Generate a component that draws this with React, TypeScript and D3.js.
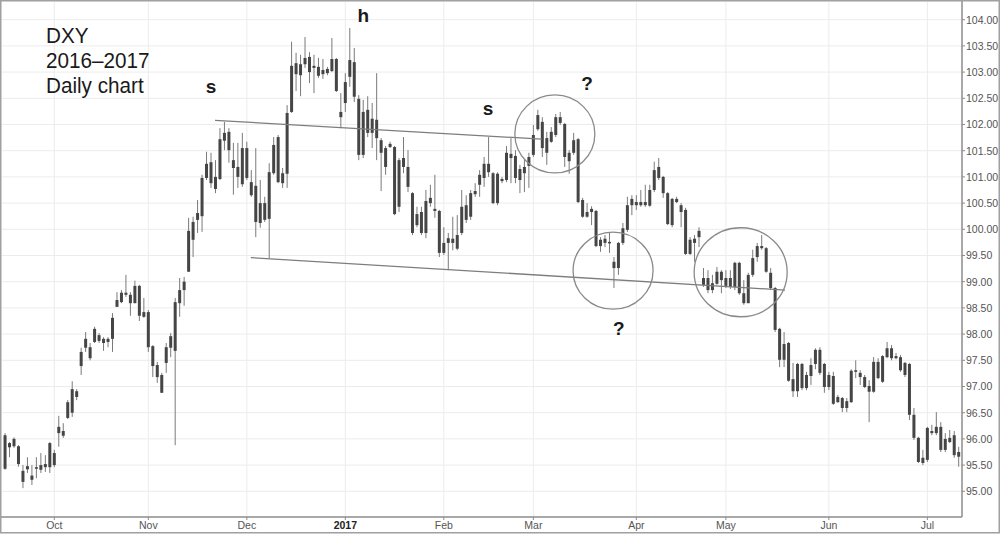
import React from 'react';
import * as d3 from 'd3';

// DXY daily OHLC, 2016-09-16 .. 2017-07-12 (trading weekdays)
const openP = [
  96.07, 95.84, 95.86, 95.86, 95.39, 95.42, 95.30, 95.43, 95.41, 95.46,
  95.46, 95.73, 96.11, 96.15, 96.40, 96.50, 96.80, 97.39, 97.74, 97.75,
  97.85, 97.98, 97.91, 97.85, 97.91, 98.52, 98.61, 98.75, 98.75, 98.59,
  98.92, 98.42, 98.42, 97.77, 97.41, 97.22, 97.45, 97.74, 97.68, 98.59,
  98.84, 99.19, 99.80, 100.18, 100.25, 100.98, 101.28, 101.00, 100.96, 101.69,
  101.86, 101.32, 101.19, 100.86, 100.98, 100.90, 100.83, 100.50, 100.18, 100.20,
  101.07, 101.76, 101.07, 101.06, 102.24, 102.96, 103.15, 103.15, 103.29, 103.12,
  103.10, 103.04, 102.98, 103.02, 103.25, 102.24, 102.41, 102.91, 103.19, 102.49,
  102.24, 101.84, 102.11, 102.09, 101.70, 101.55, 101.57, 101.57, 101.32, 101.19,
  101.19, 100.69, 100.08, 100.33, 99.93, 100.50, 100.39, 100.35, 99.74, 99.74,
  99.82, 99.89, 99.93, 100.46, 100.24, 100.67, 100.85, 100.98, 101.09, 101.07,
  101.06, 100.92, 100.94, 101.36, 101.40, 101.15, 101.07, 101.21, 101.42, 101.91,
  102.05, 101.74, 101.67, 101.80, 102.03, 102.01, 101.46, 101.46, 101.72, 100.56,
  100.33, 100.33, 100.35, 99.80, 99.74, 99.76, 99.38, 99.26, 99.74, 99.99,
  100.46, 100.52, 100.46, 100.52, 100.45, 100.75, 100.98, 101.00, 100.69, 100.58,
  100.52, 100.46, 100.37, 99.80, 99.74, 99.85, 99.07, 99.07, 98.97, 98.96,
  99.03, 99.07, 99.07, 98.90, 99.36, 98.78, 98.59, 99.13, 99.47, 99.64,
  99.64, 99.17, 98.88, 98.10, 97.51, 97.83, 97.14, 96.91, 97.43, 97.22,
  97.20, 97.43, 97.70, 97.43, 96.99, 97.20, 96.70, 96.78, 96.59, 96.70,
  97.28, 97.26, 97.18, 97.01, 96.90, 97.47, 97.09, 97.56, 97.73, 97.58,
  97.56, 97.45, 97.43, 96.46, 96.02, 95.64, 95.60, 96.15, 96.11, 96.23,
  96.00, 95.94, 96.07, 95.75,
];
const closeP = [
  95.43, 95.92, 96.00, 95.52, 95.18, 95.48, 95.22, 95.46, 95.50, 95.52,
  95.92, 95.50, 96.23, 96.06, 96.70, 96.95, 96.91, 97.66, 97.91, 97.54,
  98.10, 97.87, 97.83, 97.91, 98.31, 98.65, 98.79, 98.79, 98.59, 98.92,
  98.35, 98.33, 97.75, 97.39, 97.18, 96.88, 97.75, 97.96, 98.61, 98.84,
  99.00, 99.97, 100.14, 100.31, 100.98, 101.25, 100.88, 100.77, 101.72, 101.84,
  101.51, 101.17, 101.00, 101.55, 101.55, 100.65, 100.14, 100.12, 100.50, 101.09,
  101.61, 100.90, 100.88, 102.22, 103.12, 103.17, 102.94, 103.27, 103.00, 103.08,
  102.93, 102.96, 103.06, 103.25, 102.64, 102.14, 102.81, 103.23, 102.53, 101.42,
  101.42, 102.28, 101.84, 101.74, 101.46, 101.19, 101.63, 100.29, 100.43, 101.36,
  100.81, 99.93, 100.29, 99.93, 100.54, 100.60, 100.35, 99.55, 99.55, 99.83,
  99.74, 99.63, 100.43, 100.18, 100.69, 100.73, 101.04, 101.25, 101.25, 100.50,
  100.50, 100.96, 101.46, 101.44, 100.98, 100.94, 101.19, 101.38, 101.80, 102.18,
  101.55, 101.46, 101.86, 102.14, 102.14, 101.38, 101.30, 101.70, 100.52, 100.24,
  100.24, 100.39, 99.68, 99.68, 99.82, 99.74, 99.26, 99.74, 100.02, 100.46,
  100.58, 100.46, 100.52, 100.46, 100.75, 101.13, 101.19, 100.69, 100.10, 100.08,
  100.58, 100.33, 99.53, 99.53, 99.82, 99.97, 98.94, 98.84, 98.84, 99.19,
  99.19, 98.92, 98.90, 99.36, 98.78, 98.59, 99.13, 99.45, 99.68, 99.68,
  99.19, 98.88, 98.08, 97.51, 97.81, 97.11, 96.91, 97.43, 96.97, 96.97,
  97.41, 97.70, 97.26, 96.99, 97.22, 96.67, 96.80, 96.59, 96.72, 97.30,
  97.31, 97.18, 96.99, 96.90, 97.47, 97.16, 97.58, 97.73, 97.54, 97.54,
  97.31, 97.22, 96.46, 96.02, 95.56, 95.54, 96.21, 96.11, 96.23, 95.79,
  95.79, 96.02, 95.69, 95.66,
];
const highP = [
  96.11, 95.94, 96.03, 95.88, 95.50, 95.65, 95.50, 95.65, 95.73, 95.69,
  95.94, 95.79, 96.44, 96.30, 96.74, 97.10, 96.95, 97.74, 98.04, 97.83,
  98.14, 98.02, 97.94, 97.94, 98.40, 98.80, 98.84, 99.13, 98.80, 99.02,
  98.94, 98.69, 98.46, 97.79, 97.47, 97.26, 97.83, 98.02, 98.69, 99.07,
  99.09, 100.22, 100.24, 100.56, 101.04, 101.48, 101.46, 101.32, 101.93, 102.05,
  101.93, 101.65, 101.65, 101.84, 101.67, 101.13, 101.55, 100.94, 100.62, 101.26,
  101.76, 101.80, 101.17, 102.37, 103.58, 103.37, 103.33, 103.67, 103.38, 103.33,
  103.27, 103.25, 103.10, 103.65, 103.27, 102.60, 102.98, 103.84, 103.46, 102.56,
  102.47, 102.54, 102.41, 102.98, 101.74, 101.59, 101.67, 101.59, 101.36, 101.76,
  101.51, 100.71, 100.43, 100.43, 100.75, 100.85, 101.04, 100.37, 100.04, 99.93,
  100.24, 100.27, 100.75, 100.65, 100.75, 100.88, 101.13, 101.38, 101.76, 101.09,
  101.09, 101.00, 101.59, 101.74, 101.51, 101.23, 101.34, 101.46, 101.99, 102.28,
  102.14, 101.86, 101.95, 102.20, 102.24, 102.03, 101.51, 101.84, 101.74, 100.60,
  100.50, 100.44, 100.37, 99.85, 99.89, 99.95, 99.47, 99.76, 100.12, 100.62,
  100.65, 100.65, 100.75, 100.85, 100.85, 101.29, 101.36, 101.02, 100.71, 100.60,
  100.62, 100.50, 100.41, 99.85, 99.89, 100.04, 99.26, 99.22, 99.13, 99.28,
  99.22, 99.22, 99.22, 99.38, 99.38, 99.03, 99.17, 99.61, 99.74, 99.89,
  99.66, 99.26, 98.90, 98.12, 98.04, 97.85, 97.45, 97.45, 97.45, 97.28,
  97.54, 97.73, 97.75, 97.45, 97.28, 97.28, 96.84, 96.80, 96.78, 97.33,
  97.50, 97.31, 97.22, 97.12, 97.56, 97.54, 97.60, 97.85, 97.79, 97.64,
  97.60, 97.47, 97.45, 96.59, 96.04, 95.79, 96.23, 96.27, 96.51, 96.32,
  96.11, 96.17, 96.15, 95.85,
];
const lowP = [
  95.41, 95.65, 95.83, 95.47, 95.06, 95.35, 95.12, 95.25, 95.35, 95.37,
  95.35, 95.46, 95.85, 96.02, 96.38, 96.42, 96.74, 97.22, 97.66, 97.50,
  97.83, 97.83, 97.68, 97.75, 97.66, 98.52, 98.59, 98.71, 98.35, 98.59,
  98.25, 98.31, 97.66, 97.18, 97.07, 96.88, 97.26, 97.56, 95.88, 98.33,
  98.54, 99.19, 99.47, 99.93, 99.95, 100.94, 100.79, 100.69, 100.94, 101.51,
  101.27, 100.66, 100.79, 100.81, 100.94, 100.62, 99.85, 100.03, 100.14, 99.45,
  101.04, 100.88, 100.79, 100.79, 102.22, 102.64, 102.54, 103.08, 102.79, 102.60,
  102.89, 102.87, 102.94, 103.00, 102.62, 101.93, 102.24, 102.72, 102.43, 101.32,
  101.36, 101.76, 101.55, 101.32, 100.73, 101.04, 101.55, 100.27, 100.33, 101.07,
  100.71, 99.89, 100.04, 99.89, 99.83, 100.43, 100.22, 99.47, 99.51, 99.22,
  99.60, 99.60, 99.89, 100.12, 100.18, 100.62, 100.62, 100.81, 101.00, 100.48,
  100.46, 100.88, 100.90, 100.88, 100.88, 100.69, 100.71, 100.79, 101.38, 101.88,
  101.38, 101.23, 101.65, 101.76, 101.99, 101.19, 101.06, 101.42, 100.50, 100.22,
  100.22, 100.08, 99.66, 99.57, 99.66, 99.55, 98.88, 99.13, 99.70, 99.95,
  100.27, 100.37, 100.43, 100.43, 100.43, 100.71, 100.94, 100.60, 100.08, 100.04,
  100.50, 100.04, 99.51, 99.51, 99.38, 99.66, 98.90, 98.78, 98.78, 98.94,
  98.78, 98.88, 98.86, 98.84, 98.75, 98.56, 98.59, 99.09, 99.38, 99.61,
  99.17, 98.84, 98.04, 97.37, 97.37, 97.09, 96.80, 96.80, 96.93, 96.93,
  97.03, 97.33, 97.22, 96.88, 96.93, 96.65, 96.69, 96.51, 96.51, 96.69,
  97.16, 97.03, 96.97, 96.32, 96.88, 97.14, 97.07, 97.54, 97.50, 97.52,
  97.28, 97.18, 96.36, 95.98, 95.54, 95.50, 95.56, 96.07, 96.07, 95.75,
  95.75, 95.92, 95.64, 95.47,
];

const firstDay = new Date(2016, 8, 16);
const lastDay = new Date(2017, 6, 12);
const monthLabels = ['Oct', 'Nov', 'Dec', '2017', 'Feb', 'Mar', 'Apr', 'May', 'Jun', 'Jul'];
const yTickValues = [95, 95.5, 96, 96.5, 97, 97.5, 98, 98.5, 99, 99.5, 100, 100.5, 101, 101.5, 102, 102.5, 103, 103.5, 104];
const titleLines = ['DXY', '2016–2017', 'Daily chart'];

// trendlines: [trading-day index, price]
const upperLine = [[46.9, 102.08], [119.9, 101.72]];
const lowerLine = [[54.9, 99.46], [174.2, 98.84]];
// circles: center index, center price
const circleCenters = [[122.8, 101.82], [135.8, 99.21], [164.3, 99.18]];
// annotation letters: label, index, price
const notes: [string, number, number][] = [
  ['s', 46.0, 102.6],
  ['h', 80.0, 103.96],
  ['s', 107.9, 102.18],
  ['?', 130.0, 102.66],
  ['?', 137.1, 97.98],
];

export default function App() {
  const W = 1000, H = 535;
  const plotRight = 962, plotBottom = 517;
  const dates = d3.timeDay.range(firstDay, d3.timeDay.offset(lastDay, 1))
    .filter(d => d.getDay() !== 0 && d.getDay() !== 6);
  const n = dates.length;
  const x = d3.scaleLinear().domain([0, n - 1]).range([5.05, 958.7]);
  const y = d3.scaleLinear().domain([95, 104]).range([491.3, 19.7]);
  const monthIdx: number[] = [];
  dates.forEach((d, i) => { if (i > 0 && d.getMonth() !== dates[i - 1].getMonth()) monthIdx.push(i); });

  const bodyW = 3;
  const candleColor = '#454545';
  const wickColor = '#7a7a7a';
  const lineGen = d3.line<number[]>().x(d => x(d[0])).y(d => y(d[1]));
  const radii = [[40, 39], [40, 38.5], [46.5, 44.5]];

  return (
    <svg width={W} height={H} style={{ position: 'absolute', left: 0, top: 0, background: '#fff' }}
      fontFamily="'Liberation Sans', Arial, sans-serif">
      <rect x={0} y={0} width={W} height={H} fill="#fff" />
      {/* grid */}
      {yTickValues.map(v => (
        <line key={'gy' + v} x1={2} x2={plotRight} y1={y(v)} y2={y(v)} stroke="#ececec" strokeWidth={1} />
      ))}
      {monthIdx.map(i => (
        <line key={'gx' + i} x1={x(i)} x2={x(i)} y1={2} y2={plotBottom} stroke="#ececec" strokeWidth={1} />
      ))}
      {/* candles */}
      {dates.map((d, i) => {
        const o = openP[i], c = closeP[i], h = highP[i], l = lowP[i];
        const top = y(Math.max(o, c)), bot = y(Math.min(o, c));
        const cx = x(i);
        return (
          <g key={i}>
            <line x1={cx} x2={cx} y1={y(h)} y2={y(l)} stroke={wickColor} strokeWidth={1} />
            <rect x={cx - bodyW / 2} y={top} width={bodyW} height={Math.max(1.5, bot - top)} fill={candleColor} />
          </g>
        );
      })}
      {/* trendlines */}
      <path d={lineGen(upperLine as any) || ''} stroke="#7d7d7d" strokeWidth={1.3} fill="none" />
      <path d={lineGen(lowerLine as any) || ''} stroke="#7d7d7d" strokeWidth={1.3} fill="none" />
      {circleCenters.map((c, k) => (
        <ellipse key={'c' + k} cx={x(c[0])} cy={y(c[1])} rx={radii[k][0]} ry={radii[k][1]}
          fill="none" stroke="#8a8a8a" strokeWidth={1.3} />
      ))}
      {/* annotations */}
      {notes.map((a, k) => (
        <text key={'n' + k} x={x(a[1])} y={y(a[2])} textAnchor="middle" fontSize={19} fontWeight="bold" fill="#1a1a1a">{a[0]}</text>
      ))}
      {/* title */}
      {titleLines.map((t, k) => (
        <text key={'t' + k} transform={`translate(46, ${42.7 + k * 25.3}) scale(0.94,1)`} fontSize={22} fill="#1a1a1a">{t}</text>
      ))}
      {/* axes */}
      <line x1={plotRight} x2={plotRight} y1={0} y2={plotBottom} stroke="#8c8c8c" strokeWidth={1.5} />
      <line x1={0} x2={plotRight} y1={plotBottom} y2={plotBottom} stroke="#8c8c8c" strokeWidth={1.5} />
      {yTickValues.map(v => (
        <g key={'yt' + v}>
          <line x1={plotRight} x2={plotRight + 3} y1={y(v)} y2={y(v)} stroke="#8c8c8c" />
          <text x={plotRight + 4} y={y(v) + 3.8} fontSize={10.5} fill="#555">{v.toFixed(2)}</text>
        </g>
      ))}
      {monthIdx.map((i, k) => (
        <g key={'xt' + i}>
          <line x1={x(i)} x2={x(i)} y1={plotBottom} y2={plotBottom + 3} stroke="#8c8c8c" />
          <text x={x(i)} y={plotBottom + 12} textAnchor="middle" fontSize={10.5}
            fontWeight={monthLabels[k] === '2017' ? 'bold' : 'normal'}
            fill={monthLabels[k] === '2017' ? '#222' : '#555'}>{monthLabels[k]}</text>
        </g>
      ))}
      {/* outer frame */}
      <rect x={0.75} y={0.75} width={W - 1.5} height={532} fill="none" stroke="#a0a0a0" strokeWidth={1.5} />
    </svg>
  );
}
